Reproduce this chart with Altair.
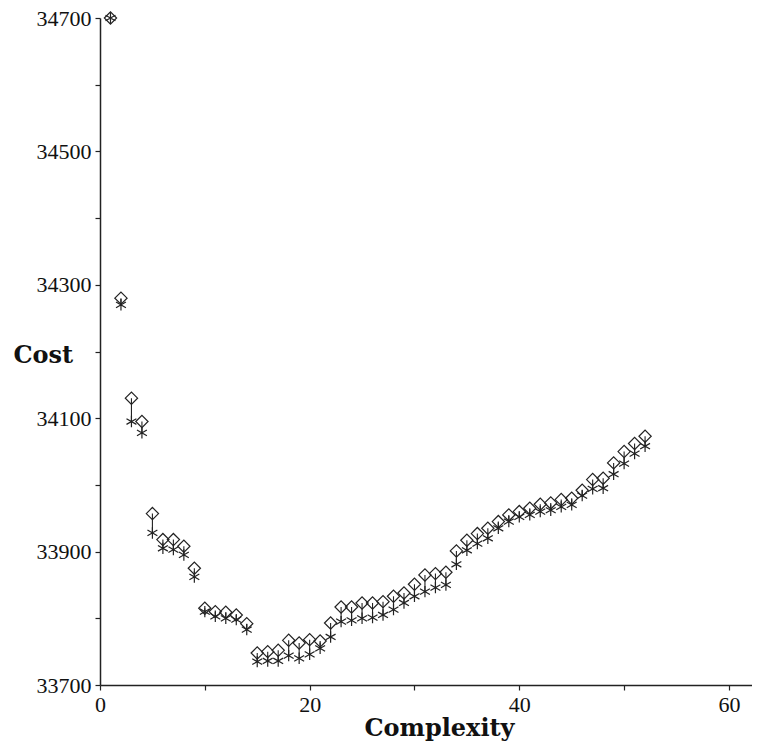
import altair as alt
import pandas as pd

complexity = list(range(1, 53))
cost_diamond = [34700, 34280, 34130, 34095, 33957, 33918, 33918, 33908, 33875, 33815,
                33810, 33809, 33805, 33792, 33748, 33750, 33752, 33767, 33763, 33768,
                33766, 33793, 33817, 33817, 33823, 33823, 33825, 33833, 33838, 33851,
                33865, 33867, 33869, 33901, 33917, 33927, 33935, 33945, 33955, 33960,
                33965, 33971, 33973, 33978, 33980, 33992, 34008, 34010, 34033, 34050,
                34062, 34073]
cost_star = [34700, 34270, 34095, 34078, 33928, 33905, 33903, 33895, 33862, 33810,
             33803, 33800, 33798, 33783, 33735, 33736, 33736, 33744, 33740, 33746,
             33755, 33772, 33795, 33797, 33800, 33801, 33805, 33813, 33823, 33833,
             33840, 33846, 33850, 33881, 33902, 33912, 33920, 33935, 33945, 33952,
             33955, 33960, 33962, 33967, 33970, 33984, 33994, 33995, 34016, 34032,
             34047, 34058]
x_ticks = [0, 10, 20, 30, 40, 50, 60]
y_ticks = list(range(33700, 34701, 100))

wide = pd.DataFrame({"Complexity": complexity, "upper": cost_diamond, "lower": cost_star})
long = pd.concat([
    pd.DataFrame({"Complexity": complexity, "Cost": cost_diamond, "kind": "diamond"}),
    pd.DataFrame({"Complexity": complexity, "Cost": cost_star, "kind": "star"}),
])

LABEL_FONT = "Liberation Serif, Times New Roman, serif"
TITLE_FONT = "DejaVu Serif"
INK = "#222222"

x_axis = alt.Axis(
    values=x_ticks, labelExpr="datum.value % 20 == 0 ? datum.label : ''", format="d",
    title="Complexity", grid=False, domainColor=INK, domainWidth=1.5, tickColor=INK,
    tickWidth=1.2, tickSize=5, labelFont=LABEL_FONT, labelFontSize=22, labelColor="#111",
    labelPadding=4, labelFlush=False, labelOverlap=False,
    titleFont=TITLE_FONT, titleFontSize=24, titleFontWeight="bold", titleColor="#111",
    titleX=339, titleY=50, titleAlign="center", titleBaseline="alphabetic",
)
y_axis = alt.Axis(
    values=y_ticks, labelExpr="(datum.value - 33700) % 200 == 0 ? datum.label : ''",
    format="d", title="Cost", grid=False, domainColor=INK, domainWidth=1.5,
    tickColor=INK, tickWidth=1.2, tickSize=5, labelFont=LABEL_FONT, labelFontSize=22,
    labelColor="#111", labelPadding=4, labelFlush=False, labelOverlap=False,
    titleFont=TITLE_FONT, titleFontSize=24, titleFontWeight="bold", titleColor="#111",
    titleAngle=0, titleX=-87, titleY=344, titleAlign="left", titleBaseline="alphabetic",
)
xs = alt.Scale(domain=[0, 62.2], nice=False, zero=False)
ys = alt.Scale(domain=[33700, 34700], nice=False, zero=False)

rules = alt.Chart(wide).mark_rule(color=INK, strokeWidth=1.1).encode(
    x=alt.X("Complexity:Q", scale=xs, axis=x_axis),
    y=alt.Y("upper:Q", scale=ys, axis=y_axis),
    y2="lower:Q",
)

diamond_path = "M-1,0L0,-1L1,0L0,1Z"
star_path = "M0,-1L0,1M-0.87,-0.5L0.87,0.5M-0.87,0.5L0.87,-0.5"

points = alt.Chart(long).mark_point(filled=False, strokeWidth=1.2, color=INK, opacity=1).encode(
    x=alt.X("Complexity:Q", scale=xs, axis=x_axis),
    y=alt.Y("Cost:Q", scale=ys, axis=y_axis),
    shape=alt.Shape("kind:N", scale=alt.Scale(domain=["diamond", "star"],
                                              range=[diamond_path, star_path]), legend=None),
    size=alt.Size("kind:N", scale=alt.Scale(domain=["diamond", "star"], range=[150, 130]),
                  legend=None),
)

chart = alt.layer(rules, points).properties(
    width=652, height=667,
    autosize=alt.AutoSizeParams(type="none"),
    padding={"left": 92, "top": 10, "right": 0, "bottom": 58},
).configure(background="white").configure_view(stroke=None)

chart.save("out.html", embed_options={"renderer": "svg", "actions": False})
